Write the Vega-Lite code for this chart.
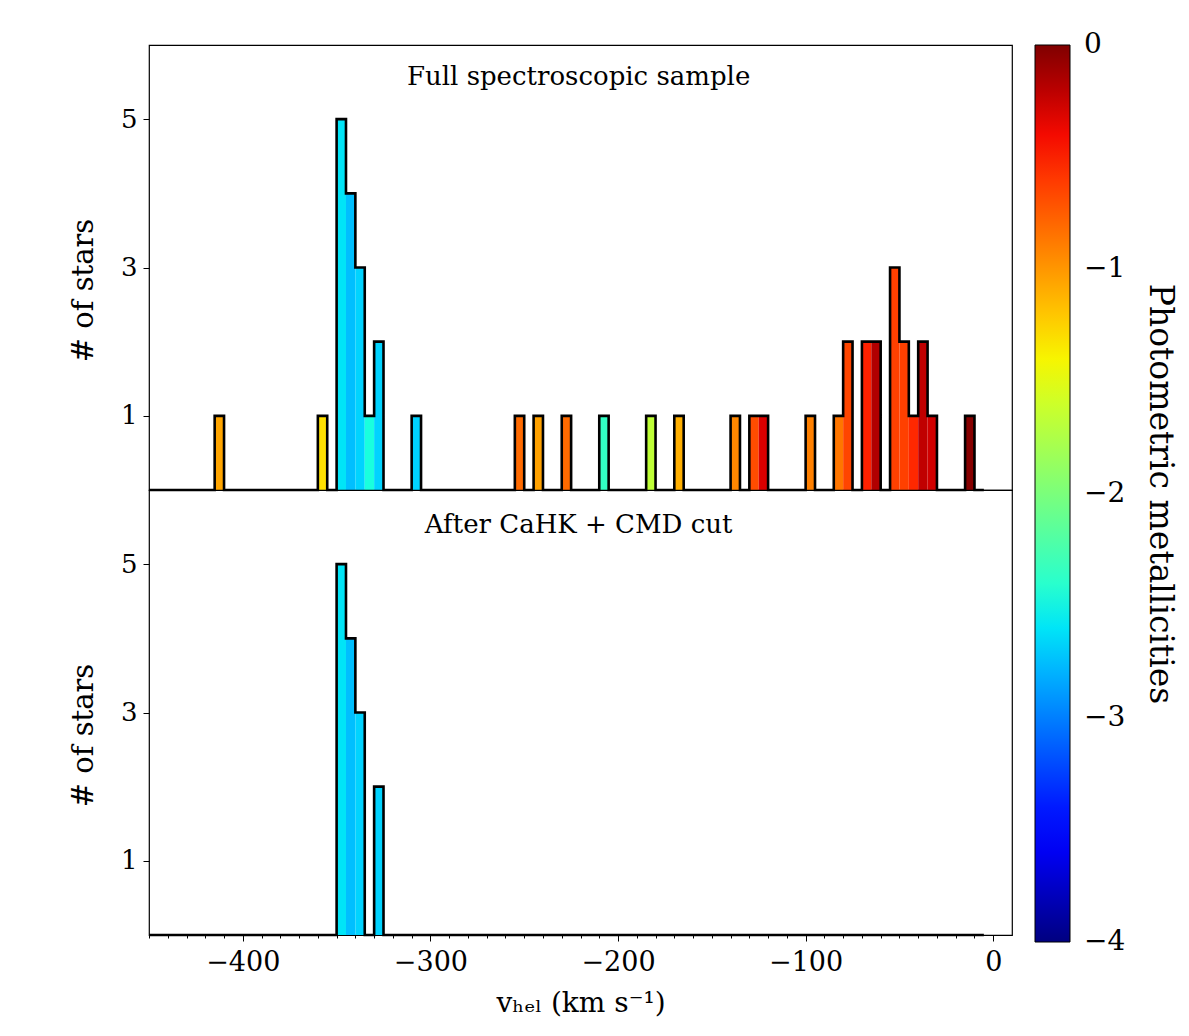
{
  "$schema": "https://vega.github.io/schema/vega-lite/v6.json",
  "background": "white",
  "padding": {"left": 68, "top": 44, "right": 5, "bottom": 5},
  "datasets": {
    "full": [
      {"v0": -450, "v1": -415, "n": 0},
      {"v0": -415, "v1": -410, "n": 1, "feh": -1.06},
      {"v0": -410, "v1": -360, "n": 0},
      {"v0": -360, "v1": -355, "n": 1, "feh": -1.31},
      {"v0": -355, "v1": -350, "n": 0},
      {"v0": -350, "v1": -345, "n": 5, "feh": -2.6},
      {"v0": -345, "v1": -340, "n": 4, "feh": -2.75},
      {"v0": -340, "v1": -335, "n": 3, "feh": -2.67},
      {"v0": -335, "v1": -330, "n": 1, "feh": -2.48},
      {"v0": -330, "v1": -325, "n": 2, "feh": -2.67},
      {"v0": -325, "v1": -310, "n": 0},
      {"v0": -310, "v1": -305, "n": 1, "feh": -2.67},
      {"v0": -305, "v1": -255, "n": 0},
      {"v0": -255, "v1": -250, "n": 1, "feh": -0.81},
      {"v0": -250, "v1": -245, "n": 0},
      {"v0": -245, "v1": -240, "n": 1, "feh": -1.04},
      {"v0": -240, "v1": -230, "n": 0},
      {"v0": -230, "v1": -225, "n": 1, "feh": -0.81},
      {"v0": -225, "v1": -210, "n": 0},
      {"v0": -210, "v1": -205, "n": 1, "feh": -2.36},
      {"v0": -205, "v1": -185, "n": 0},
      {"v0": -185, "v1": -180, "n": 1, "feh": -1.67},
      {"v0": -180, "v1": -170, "n": 0},
      {"v0": -170, "v1": -165, "n": 1, "feh": -1.1},
      {"v0": -165, "v1": -140, "n": 0},
      {"v0": -140, "v1": -135, "n": 1, "feh": -0.93},
      {"v0": -135, "v1": -130, "n": 0},
      {"v0": -130, "v1": -125, "n": 1, "feh": -0.68},
      {"v0": -125, "v1": -120, "n": 1, "feh": -0.32},
      {"v0": -120, "v1": -100, "n": 0},
      {"v0": -100, "v1": -95, "n": 1, "feh": -0.9},
      {"v0": -95, "v1": -85, "n": 0},
      {"v0": -85, "v1": -80, "n": 1, "feh": -0.86},
      {"v0": -80, "v1": -75, "n": 2, "feh": -0.65},
      {"v0": -75, "v1": -70, "n": 0},
      {"v0": -70, "v1": -65, "n": 2, "feh": -0.5},
      {"v0": -65, "v1": -60, "n": 2, "feh": -0.17},
      {"v0": -60, "v1": -55, "n": 0},
      {"v0": -55, "v1": -50, "n": 3, "feh": -0.63},
      {"v0": -50, "v1": -45, "n": 2, "feh": -0.63},
      {"v0": -45, "v1": -40, "n": 1, "feh": -0.53},
      {"v0": -40, "v1": -35, "n": 2, "feh": -0.22},
      {"v0": -35, "v1": -30, "n": 1, "feh": -0.28},
      {"v0": -30, "v1": -15, "n": 0},
      {"v0": -15, "v1": -10, "n": 1, "feh": -0.02},
      {"v0": -10, "v1": -5, "n": 0},
      {"v0": -5, "v1": -5, "n": 0}
    ],
    "cut": [
      {"v0": -450, "v1": -350, "n": 0},
      {"v0": -350, "v1": -345, "n": 5, "feh": -2.6},
      {"v0": -345, "v1": -340, "n": 4, "feh": -2.75},
      {"v0": -340, "v1": -335, "n": 3, "feh": -2.67},
      {"v0": -335, "v1": -330, "n": 0},
      {"v0": -330, "v1": -325, "n": 2, "feh": -2.67},
      {"v0": -325, "v1": -5, "n": 0},
      {"v0": -5, "v1": -5, "n": 0}
    ]
  },
  "spacing": 0,
  "bounds": "flush",
  "resolve": {"scale": {"x": "shared", "color": "shared", "y": "independent"}},
  "vconcat": [
    {
      "width": 863,
      "height": 445,
      "layer": [
        {
          "data": {"name": "full"},
          "encoding": {
            "x": {"field": "v0", "type": "quantitative", "scale": {"domain": [-450, 10], "nice": false, "zero": false}, "axis": null},
            "y": {"field": "n", "type": "quantitative", "scale": {"domain": [0, 6], "nice": false},
                  "axis": {"values": [1, 3, 5], "format": "d", "title": "# of stars", "tickSize": 6, "labelFontSize": 26, "titleFontSize": 29, "labelPadding": 6, "titlePadding": 22, "titleY": 245}}
          },
          "layer": [
            {
              "transform": [{"filter": "datum.n > 0"}],
              "mark": {"type": "rect"},
              "encoding": {
                "x2": {"field": "v1"},
                "y2": {"datum": 0},
                "color": {
                  "field": "feh", "type": "quantitative",
                  "scale": {"type": "linear", "domain": [-4, -3.56, -3.5, -2.64, -2.6, -2.5, -1.44, -1.4, -1.36, -0.44, -0.36, 0],
                            "range": ["#000080", "#0000ff", "#0000ff", "#00dbff", "#00e5f7", "#15ffe2", "#eeff08", "#f7f500", "#ffec00", "#ff1300", "#e80000", "#800000"],
                            "interpolate": "rgb"},
                  "legend": {
                    "title": "Photometric metallicities",
                    "values": [0, -1, -2, -3, -4],
                    "format": "d",
                    "direction": "vertical",
                    "orient": "right",
                    "offset": 22,
                    "padding": 0,
                    "gradientLength": 897,
                    "gradientThickness": 35,
                    "gradientStrokeColor": "black",
                    "gradientStrokeWidth": 1,
                    "labelFont": "DejaVu Serif",
                    "labelFontSize": 28,
                    "labelColor": "black",
                    "labelOffset": 14,
                    "labelOverlap": false,
                    "titleFont": "DejaVu Serif",
                    "titleFontSize": 33,
                    "titleFontWeight": "normal",
                    "titleColor": "black",
                    "titleOrient": "right",
                    "titleAngle": 90,
                    "titleAnchor": "middle",
                    "titleLimit": 2000,
                    "titlePadding": 18,
                    "encode": {"labels": {"update": {"baseline": {"value": "middle"}}}}
                  }
                }
              }
            },
            {
              "mark": {"type": "line", "interpolate": "step-after", "color": "black", "strokeWidth": 2.6, "strokeJoin": "miter"}
            }
          ]
        },
        {
          "data": {"values": [{"label": "Full spectroscopic sample"}]},
          "mark": {"type": "text", "font": "DejaVu Serif", "fontSize": 26, "align": "center", "baseline": "middle", "color": "black"},
          "encoding": {
            "x": {"datum": -221, "type": "quantitative", "axis": null},
            "y": {"datum": 5.57, "type": "quantitative", "axis": {"values": [1, 3, 5], "format": "d", "title": "# of stars", "tickSize": 6, "labelFontSize": 26, "titleFontSize": 29, "labelPadding": 6, "titlePadding": 22, "titleY": 245}},
            "text": {"field": "label"}
          }
        }
      ]
    },
    {
      "width": 863,
      "height": 445,
      "layer": [
        {
          "data": {"name": "cut"},
          "encoding": {
            "x": {"field": "v0", "type": "quantitative", "scale": {"domain": [-450, 10], "nice": false, "zero": false},
                  "axis": {
                    "title": "vₕₑₗ (km s⁻¹)",
                    "values": [-450, -440, -430, -420, -410, -400, -390, -380, -370, -360, -350, -340, -330, -320, -310, -300, -290, -280, -270, -260, -250, -240, -230, -220, -210, -200, -190, -180, -170, -160, -150, -140, -130, -120, -110, -100, -90, -80, -70, -60, -50, -40, -30, -20, -10, 0],
                    "labelExpr": "abs(datum.value) % 100 < 0.5 ? datum.label : ''",
                    "tickSize": {"condition": {"test": "abs(datum.value) % 100 < 0.5", "value": 6}, "value": 3},
                    "labelFontSize": 27,
                    "titleFontSize": 28,
                    "labelPadding": 8,
                    "titlePadding": 14,
                    "labelOverlap": false,
                    "labelFlush": false
                  }},
            "y": {"field": "n", "type": "quantitative", "scale": {"domain": [0, 6], "nice": false},
                  "axis": {"values": [1, 3, 5], "format": "d", "title": "# of stars", "tickSize": 6, "labelFontSize": 26, "titleFontSize": 29, "labelPadding": 6, "titlePadding": 22, "titleY": 245}}
          },
          "layer": [
            {
              "transform": [{"filter": "datum.n > 0"}],
              "mark": {"type": "rect"},
              "encoding": {
                "x2": {"field": "v1"},
                "y2": {"datum": 0},
                "color": {
                  "field": "feh", "type": "quantitative",
                  "scale": {"type": "linear", "domain": [-4, -3.56, -3.5, -2.64, -2.6, -2.5, -1.44, -1.4, -1.36, -0.44, -0.36, 0],
                            "range": ["#000080", "#0000ff", "#0000ff", "#00dbff", "#00e5f7", "#15ffe2", "#eeff08", "#f7f500", "#ffec00", "#ff1300", "#e80000", "#800000"],
                            "interpolate": "rgb"},
                  "legend": null
                }
              }
            },
            {
              "mark": {"type": "line", "interpolate": "step-after", "color": "black", "strokeWidth": 2.6, "strokeJoin": "miter"}
            }
          ]
        },
        {
          "data": {"values": [{"label": "After CaHK + CMD cut"}]},
          "mark": {"type": "text", "font": "DejaVu Serif", "fontSize": 26, "align": "center", "baseline": "middle", "color": "black"},
          "encoding": {
            "x": {"datum": -221, "type": "quantitative", "axis": {
                "title": "vₕₑₗ (km s⁻¹)",
                "values": [-450, -440, -430, -420, -410, -400, -390, -380, -370, -360, -350, -340, -330, -320, -310, -300, -290, -280, -270, -260, -250, -240, -230, -220, -210, -200, -190, -180, -170, -160, -150, -140, -130, -120, -110, -100, -90, -80, -70, -60, -50, -40, -30, -20, -10, 0],
                "labelExpr": "abs(datum.value) % 100 < 0.5 ? datum.label : ''",
                "tickSize": {"condition": {"test": "abs(datum.value) % 100 < 0.5", "value": 6}, "value": 3},
                "labelFontSize": 27,
                "titleFontSize": 28,
                "labelPadding": 8,
                "titlePadding": 14,
                "labelOverlap": false,
                "labelFlush": false
              }},
            "y": {"datum": 5.53, "type": "quantitative", "axis": {"values": [1, 3, 5], "format": "d", "title": "# of stars", "tickSize": 6, "labelFontSize": 26, "titleFontSize": 29, "labelPadding": 6, "titlePadding": 22, "titleY": 245}},
            "text": {"field": "label"}
          }
        }
      ]
    }
  ],
  "config": {
    "font": "DejaVu Serif",
    "view": {"stroke": "black", "strokeWidth": 1.2},
    "axis": {
      "grid": false,
      "domain": false,
      "tickColor": "black",
      "tickWidth": 1,
      "labelColor": "black",
      "titleColor": "black",
      "labelFont": "DejaVu Serif",
      "titleFont": "DejaVu Serif",
      "titleFontWeight": "normal"
    }
  }
}
